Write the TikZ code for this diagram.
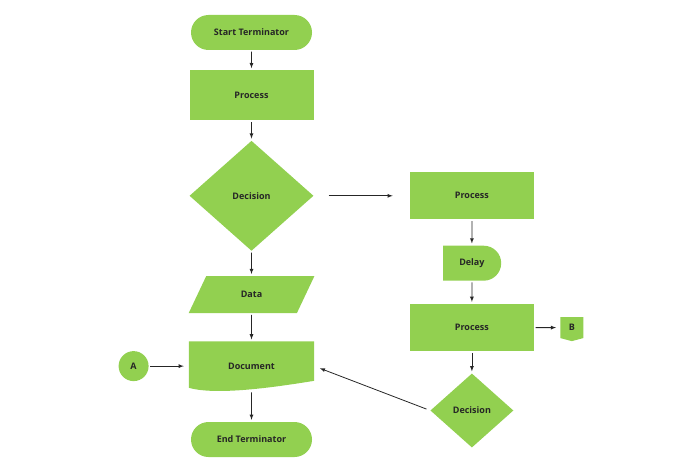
\documentclass[tikz,border=0pt]{standalone}
\usepackage{fontspec}
\setmainfont{Open Sans}
\usetikzlibrary{shapes.geometric, shapes.misc, shapes.symbols, arrows, positioning, backgrounds}
\definecolor{leaf}{HTML}{92D050}
\tikzset{
    shapebase/.style = {fill=leaf, text=black!85, font=\fontsize{9}{10}\selectfont\bfseries,
                        align=center, inner sep=1pt},
    terminator/.style = {shapebase, rounded rectangle, minimum width=123pt, minimum height=35pt},
    process/.style = {shapebase, rectangle, minimum width=124pt, minimum height=50pt},
    decision/.style = {shapebase, diamond, minimum width=124pt, minimum height=110pt},
    iobox/.style = {shapebase, trapezium, trapezium left angle=62, trapezium right angle=118,
                    trapezium stretches=true, minimum width=126pt, minimum height=37pt},
    docbox/.style = {shapebase, fill=none, rectangle, minimum width=125pt, minimum height=49pt},
    delaybox/.style = {shapebase, rounded rectangle, rounded rectangle west arc=none,
                       minimum width=60pt, minimum height=35pt},
    connector/.style = {shapebase, circle, minimum size=30pt},
    offpage/.style = {shapebase, signal, signal to=south, signal from=nowhere,
                      signal pointer angle=150, minimum width=23pt, minimum height=22pt},
    arrow/.style = {line width=0.8pt, -latex, draw=black!85, shorten >=2pt, shorten <=1.5pt},
}

\begin{document}
\begin{tikzpicture}[x=1pt, y=1pt]
\useasboundingbox (0,0) rectangle (700,467);

\node (start) [terminator] at (251.5,434.5) {Start Terminator};
\node (proc1) [process, below=20pt of start] {Process};
\node (dec1) [decision, below=20pt of proc1] {Decision};
\node (data) [iobox, below=25pt of dec1] {Data};
\node (doc) [docbox, below=28pt of data] {Document};
\node (end) [terminator, below=31pt of doc] {End Terminator};
\node (conA) [connector, left=40pt of doc] {A};

\node (proc2) [process, minimum height=47pt, right=96pt of dec1] {Process};
\node (delay) [delaybox, below=26pt of proc2] {Delay};
\node (proc3) [process, minimum height=47pt, below=23pt of delay] {Process};
\node (dec2) [decision, minimum width=83pt, minimum height=74pt, below=22pt of proc3] {Decision};
\node (conB) [offpage, right=26pt of proc3] {B};

% wavy bottom of the document
\begin{scope}[on background layer]
\fill[leaf] (doc.north west) -- (doc.north east) -- ([yshift=10pt]doc.south east)
    .. controls ([shift={(-37pt,4pt)}]doc.south east) and ([shift={(-97pt,-5pt)}]doc.south east)
    .. ([yshift=3pt]doc.south west) -- cycle;
\end{scope}

% Arrows
\draw[arrow] (start) -- (proc1);
\draw[arrow] (proc1) -- (dec1);
\draw[arrow, shorten <=15pt, shorten >=17pt] (dec1.east) -- (dec1.east -| proc2.west);
\draw[arrow] (dec1) -- (data);
\draw[arrow] (data) -- (doc);
\draw[arrow] (doc) -- (end);
\draw[arrow, shorten >=5pt] (conA) -- (conA -| doc.west);
\draw[arrow] (proc2) -- (delay);
\draw[arrow] (delay) -- (proc3);
\draw[arrow] (proc3) -- (dec2);
\draw[arrow, shorten >=4pt] (proc3) -- (conB);
\draw[arrow, shorten <=4pt, shorten >=6pt] (dec2.west) -- (doc.east);
\end{tikzpicture}
\end{document}
